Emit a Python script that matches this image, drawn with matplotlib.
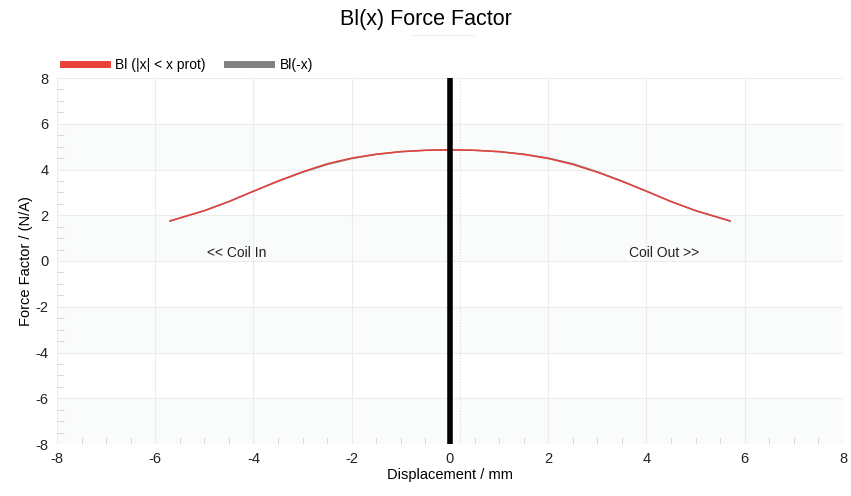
import matplotlib.pyplot as plt
import numpy as np

# Bl(x) curve values
disp_mm = [-5.7, -5.0, -4.5, -4.0, -3.5, -3.0, -2.5, -2.0, -1.5, -1.0, -0.5, 0.0,
           0.5, 1.0, 1.5, 2.0, 2.5, 3.0, 3.5, 4.0, 4.5, 5.0, 5.7]
bl_prot = [1.75, 2.2, 2.6, 3.05, 3.5, 3.9, 4.25, 4.5, 4.67, 4.78, 4.84, 4.86,
           4.84, 4.78, 4.66, 4.48, 4.22, 3.88, 3.48, 3.05, 2.6, 2.2, 1.75]
bl_neg = bl_prot[::-1]

x_ticks = [-8, -6, -4, -2, 0, 2, 4, 6, 8]
y_ticks = [-8, -6, -4, -2, 0, 2, 4, 6, 8]

plt.rcParams['font.family'] = ['Liberation Sans', 'DejaVu Sans']
plt.rcParams['axes.unicode_minus'] = False

fig = plt.figure(figsize=(8.51, 4.96), dpi=100)
ax = fig.add_axes([57 / 851, 1 - 444 / 496, 786 / 851, 366 / 496])

# very faint alternating background bands
for lo in (-8, -4, 0, 4):
    ax.axhspan(lo, lo + 2, color='#fafbfb', zorder=0, lw=0)

ax.plot(disp_mm, bl_neg, color='#808080', lw=1.1, zorder=2, label='Bl(-x)')
ax.plot(disp_mm, bl_prot, color='#e8403a', lw=1.1, zorder=3, label='Bl (|x| < x prot)')
ax.axvline(0, color='black', lw=4, zorder=4)
ax.axvline(0.2, color='#dcdcdc', lw=0.8, ls=':', zorder=1)

ax.text(-4.35, 0.35, '<< Coil In', ha='center', va='center', fontsize=10, color='#222222')
ax.text(4.35, 0.35, 'Coil Out >>', ha='center', va='center', fontsize=10, color='#222222')

ax.set_xlim(-8, 8)
ax.set_ylim(-8, 8)
ax.set_xticks(x_ticks)
ax.set_yticks(y_ticks)
ax.set_xticks(np.arange(-8, 8.01, 0.5), minor=True)
ax.set_yticks(np.arange(-8, 8.01, 0.5), minor=True)
ax.grid(which='major', color='#ececec', lw=0.8)
ax.tick_params(which='major', length=0, labelsize=10.5, colors='#222222', pad=6)
ax.tick_params(which='minor', direction='in', length=5, color='#d4d4d4')
for s in ax.spines.values():
    s.set_visible(False)

ax.set_xlabel('Displacement / mm', fontsize=10.5, labelpad=1)
ax.set_ylabel('Force Factor / (N/A)', fontsize=10.5, labelpad=2)

fig.text(0.5, 1 - 19 / 496, 'Bl(x) Force Factor', ha='center', va='center', fontsize=15.5)
fig.add_artist(plt.Line2D([412 / 851, 474 / 851], [1 - 35 / 496] * 2, color='#eeeeee', lw=0.8))

# legend in the order of the reference
handles, labels = ax.get_legend_handles_labels()
leg = fig.legend(handles[::-1], labels[::-1], loc='center left', bbox_to_anchor=(50 / 851, 1 - 65 / 496),
                 ncol=2, frameon=False, fontsize=10, handlelength=3.2, columnspacing=1.5,
                 handletextpad=0.6)
for line in leg.get_lines():
    line.set_linewidth(5)

fig.savefig('out.png', dpi=100)
